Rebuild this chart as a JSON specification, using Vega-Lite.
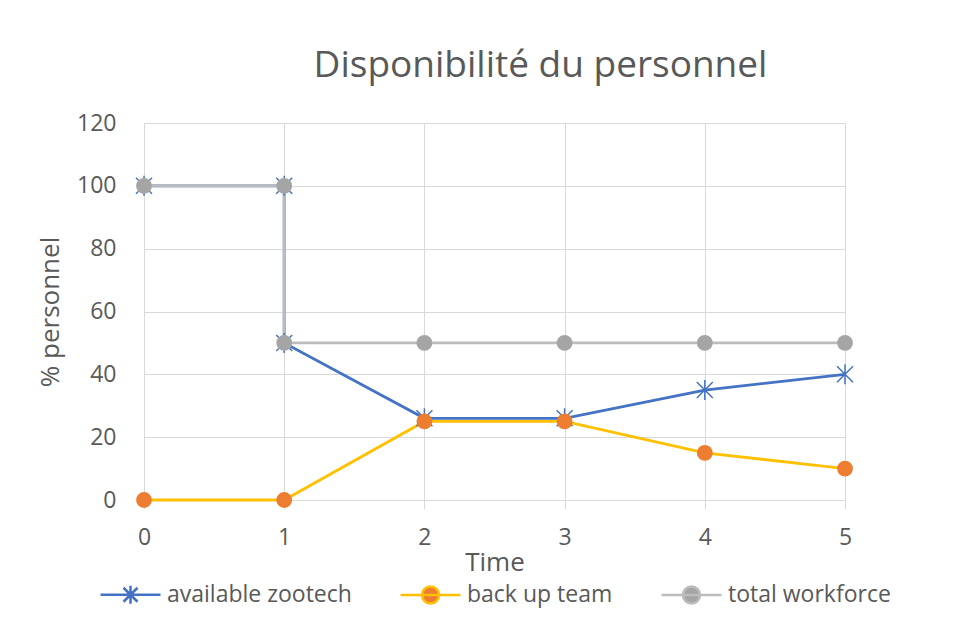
{
  "$schema": "https://vega.github.io/schema/vega-lite/v6.json",
  "width": 701,
  "height": 377,
  "autosize": "none",
  "padding": {"left": 144, "top": 123, "right": 128, "bottom": 132},
  "background": "white",
  "title": {
    "text": "Disponibilité du personnel",
    "font": "Open Sans",
    "fontSize": 37,
    "fontWeight": "normal",
    "color": "#595959",
    "anchor": "middle",
    "dx": 46,
    "offset": 27
  },
  "data": {
    "values": [
      {"i": 1, "t": 0, "v": 100, "s": "available zootech"},
      {"i": 2, "t": 1, "v": 100, "s": "available zootech"},
      {"i": 3, "t": 1, "v": 50, "s": "available zootech"},
      {"i": 4, "t": 2, "v": 26, "s": "available zootech"},
      {"i": 5, "t": 3, "v": 26, "s": "available zootech"},
      {"i": 6, "t": 4, "v": 35, "s": "available zootech"},
      {"i": 7, "t": 5, "v": 40, "s": "available zootech"},
      {"i": 8, "t": 0, "v": 0, "s": "back up team"},
      {"i": 9, "t": 1, "v": 0, "s": "back up team"},
      {"i": 10, "t": 2, "v": 25, "s": "back up team"},
      {"i": 11, "t": 3, "v": 25, "s": "back up team"},
      {"i": 12, "t": 4, "v": 15, "s": "back up team"},
      {"i": 13, "t": 5, "v": 10, "s": "back up team"},
      {"i": 14, "t": 0, "v": 100, "s": "total workforce"},
      {"i": 15, "t": 1, "v": 100, "s": "total workforce"},
      {"i": 16, "t": 1, "v": 50, "s": "total workforce"},
      {"i": 17, "t": 2, "v": 50, "s": "total workforce"},
      {"i": 18, "t": 3, "v": 50, "s": "total workforce"},
      {"i": 19, "t": 4, "v": 50, "s": "total workforce"},
      {"i": 20, "t": 5, "v": 50, "s": "total workforce"}
    ]
  },
  "encoding": {
    "x": {
      "field": "t",
      "type": "quantitative",
      "scale": {"domain": [0, 5], "nice": false, "zero": false},
      "axis": {
        "title": "Time",
        "values": [0, 1, 2, 3, 4, 5],
        "format": "d",
        "grid": true,
        "gridColor": "#D9D9D9",
        "gridWidth": 1,
        "domain": false,
        "ticks": true,
        "tickSize": 9,
        "tickColor": "#D9D9D9",
        "labelFont": "Open Sans",
        "labelFontSize": 23,
        "labelColor": "#595959",
        "labelPadding": 17,
        "labelFlush": false,
        "titleFont": "Open Sans",
        "titleFontSize": 26,
        "titleFontWeight": "normal",
        "titleColor": "#595959",
        "titlePadding": 0
      }
    },
    "y": {
      "field": "v",
      "type": "quantitative",
      "scale": {"domain": [0, 120], "nice": false},
      "axis": {
        "title": "% personnel",
        "values": [0, 20, 40, 60, 80, 100, 120],
        "grid": true,
        "gridColor": "#D9D9D9",
        "gridWidth": 1,
        "domain": false,
        "ticks": false,
        "labelFont": "Open Sans",
        "labelFontSize": 23,
        "labelColor": "#595959",
        "labelPadding": 28,
        "labelFlush": false,
        "titleFont": "Open Sans",
        "titleFontSize": 26,
        "titleFontWeight": "normal",
        "titleColor": "#595959",
        "titlePadding": 13
      }
    }
  },
  "layer": [
    {
      "mark": {"type": "line", "strokeWidth": 2.8},
      "encoding": {
        "color": {
          "field": "s",
          "type": "nominal",
          "scale": {
            "domain": ["available zootech", "back up team", "total workforce"],
            "range": ["#4472C4", "#FFC000", "#BCBCBC"]
          },
          "legend": {
            "title": null,
            "orient": "bottom",
            "direction": "horizontal",
            "offset": 8,
            "symbolOffset": 20,
            "labelOffset": 25,
            "columnPadding": 43,
            "labelLimit": 400,
            "labelFont": "Open Sans",
            "labelFontSize": 23,
            "labelColor": "#595959",
            "encode": {
              "symbols": {
                "update": {
                  "shape": {"signal": "datum.value === 'available zootech' ? 'M-3,0H3M-0.7,-0.7L0.7,0.7M-0.7,0.7L0.7,-0.7M0,-0.9L0,0.9' : 'M-3,0H3M-0.85,0A0.85,0.85,0,1,0,0.85,0A0.85,0.85,0,1,0,-0.85,0Z'"},
                  "size": {"value": 400},
                  "opacity": {"value": 1},
                  "strokeWidth": {"value": 2.5},
                  "stroke": {"signal": "datum.value === 'available zootech' ? '#4472C4' : datum.value === 'back up team' ? '#FFC000' : '#BFBFBF'"},
                  "fill": {"signal": "datum.value === 'available zootech' ? 'transparent' : datum.value === 'back up team' ? '#ED7D31' : '#A5A5A5'"}
                }
              }
            }
          }
        },
        "order": {"field": "i", "type": "quantitative"}
      }
    },
    {
      "transform": [{"filter": "datum.s === 'available zootech'"}],
      "mark": {
        "type": "point",
        "shape": "M-0.8,-0.8L0.8,0.8M-0.8,0.8L0.8,-0.8M0,-1L0,1",
        "filled": false,
        "stroke": "#4472C4",
        "strokeWidth": 1.5,
        "size": 400,
        "opacity": 1
      },
      "encoding": {}
    },
    {
      "transform": [{"filter": "datum.s === 'back up team'"}],
      "mark": {
        "type": "point",
        "shape": "circle",
        "filled": true,
        "fill": "#ED7D31",
        "size": 250,
        "opacity": 1
      },
      "encoding": {}
    },
    {
      "transform": [{"filter": "datum.s === 'total workforce'"}],
      "mark": {
        "type": "point",
        "shape": "circle",
        "filled": true,
        "fill": "#A5A5A5",
        "size": 250,
        "opacity": 1
      },
      "encoding": {}
    }
  ],
  "config": {
    "view": {"stroke": null},
    "legend": {"layout": {"bottom": {"anchor": "middle"}}}
  }
}
